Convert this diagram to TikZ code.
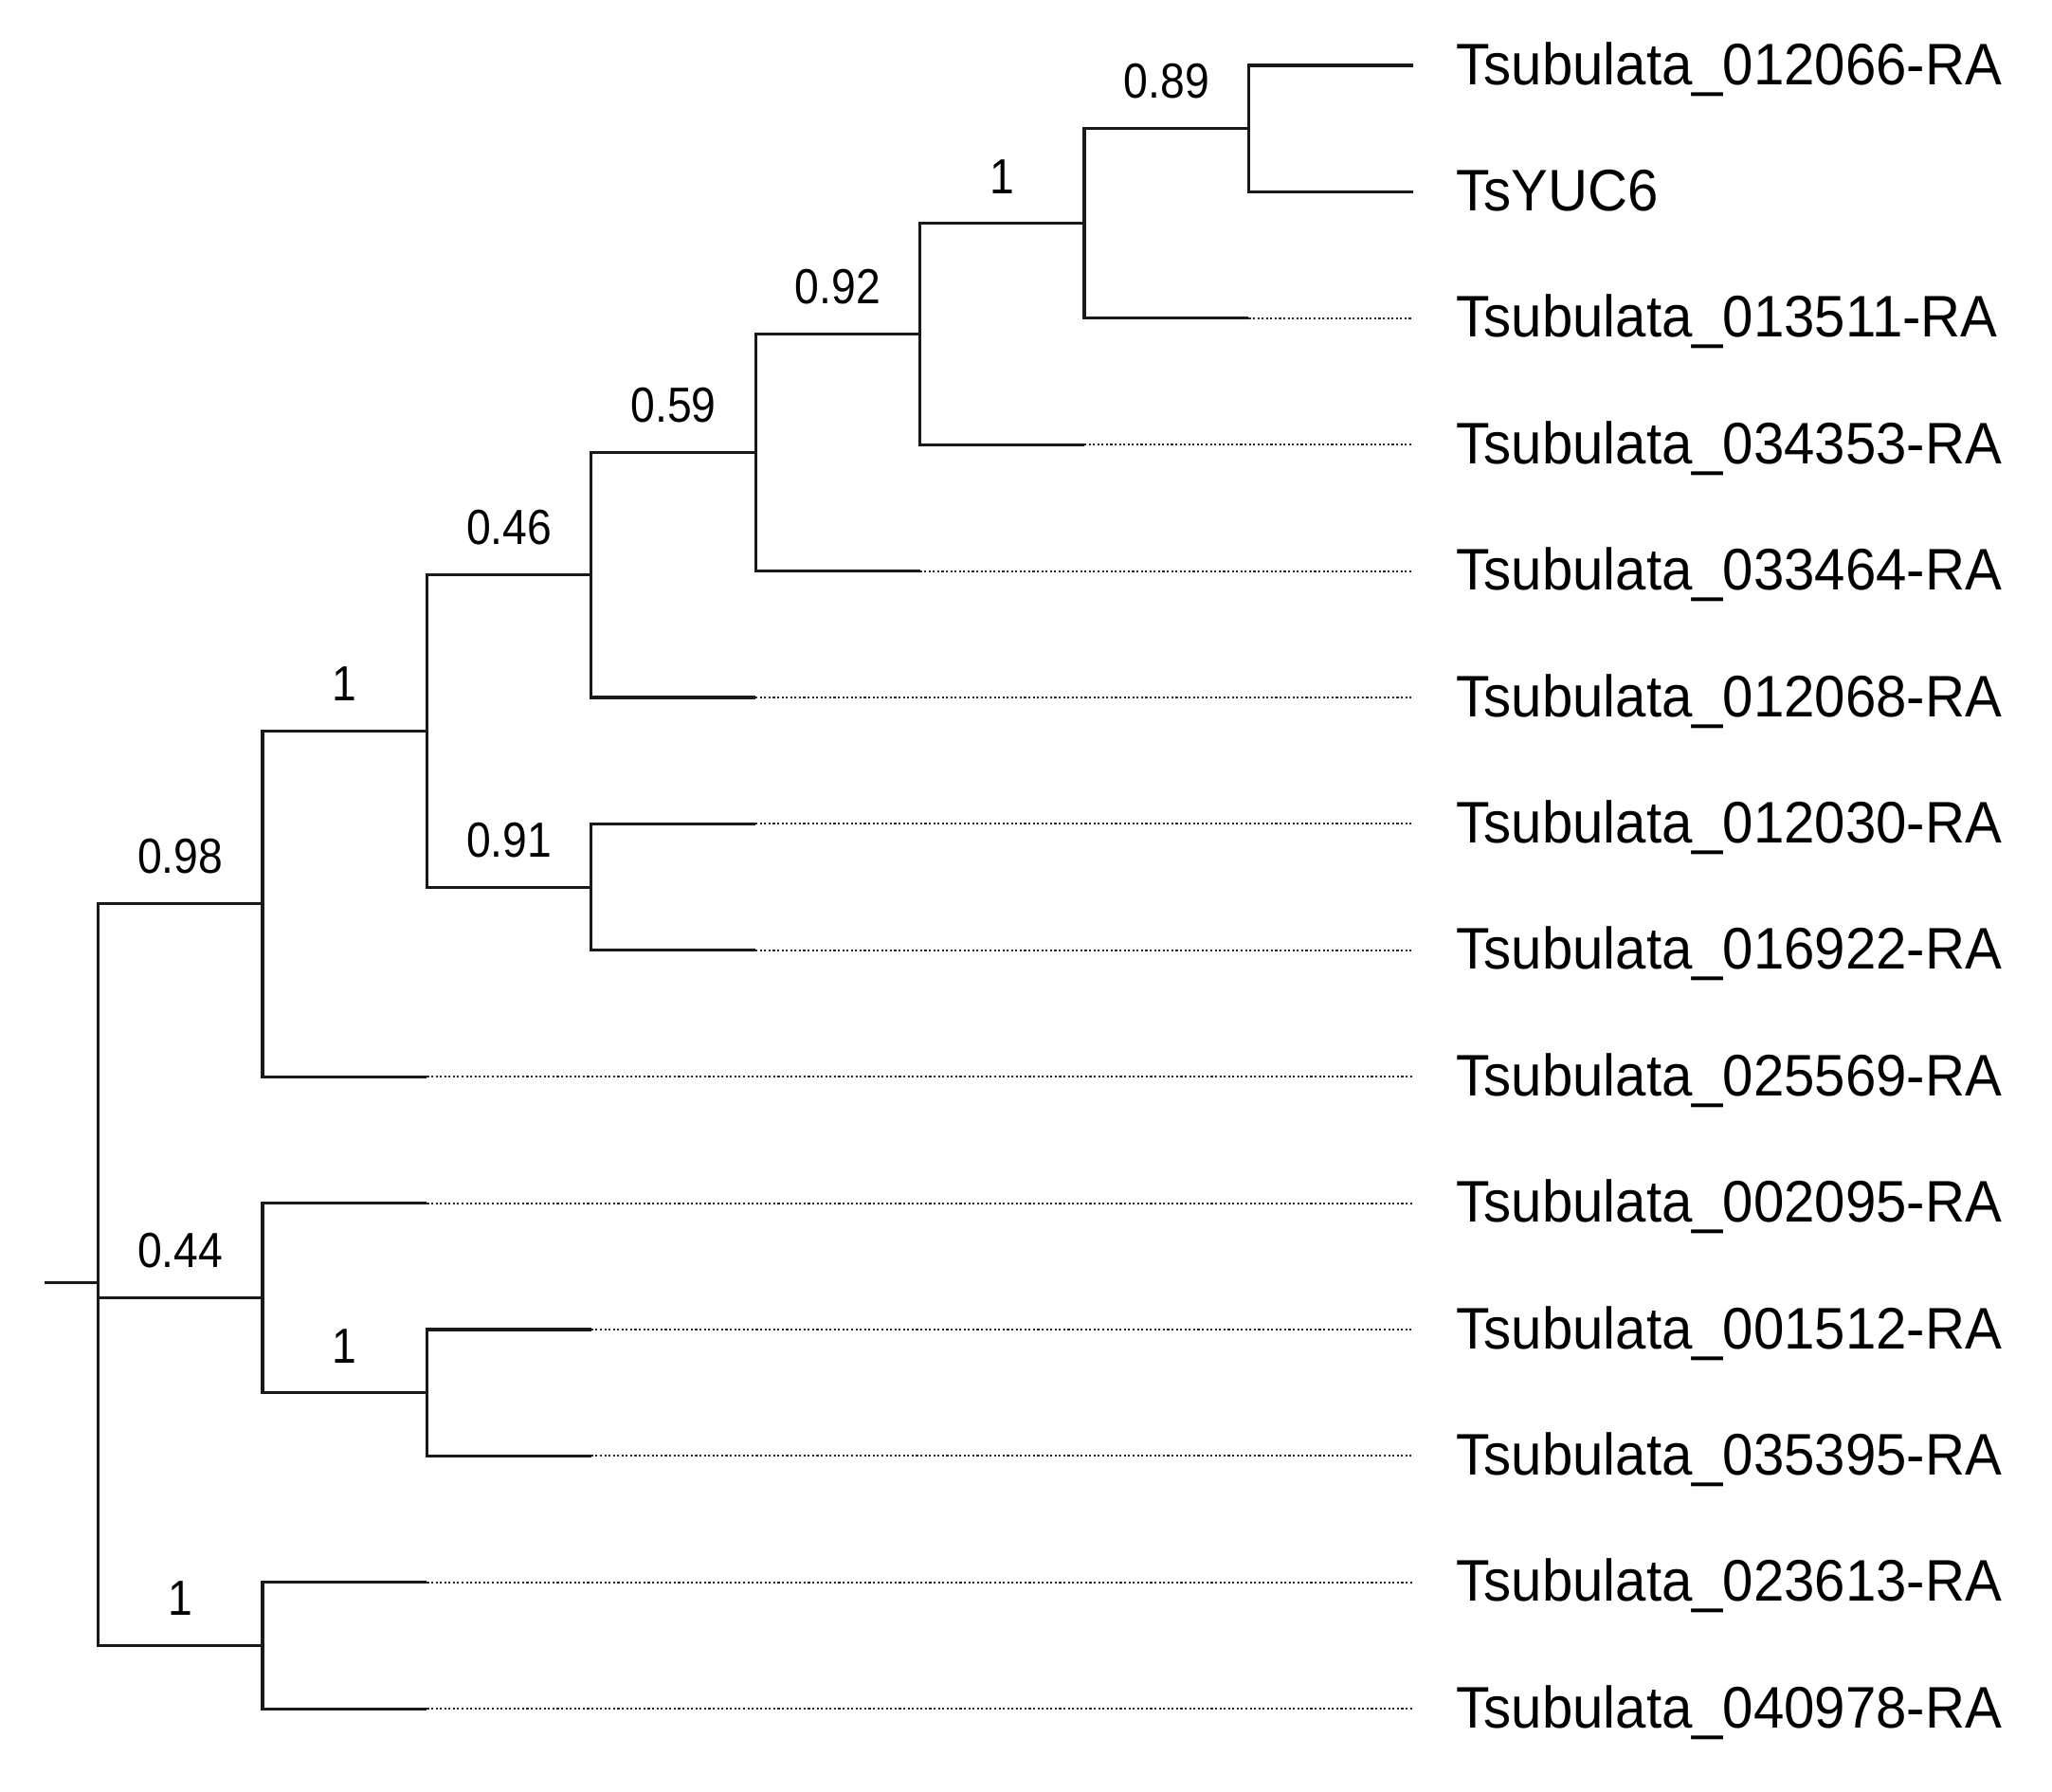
\documentclass[tikz,border=0pt]{standalone}
\usepackage{fontspec}
\setmainfont{Liberation Sans}
\newfontfamily\taxfont[FakeStretch=0.94]{Liberation Sans}
\newfontfamily\suppfont[FakeStretch=0.89]{Liberation Sans}
\tikzset{
  branch/.style={line width=0.9pt,draw=black!90},
  ext/.style={line width=0.6pt,dash pattern=on 0.6pt off 0.7pt,draw=black!85},
  taxon/.style={anchor=west,inner sep=0pt,text height=12.6pt,text depth=0pt,
    font=\taxfont\fontsize{17.6}{20}\selectfont},
  supp/.style={anchor=south,inner sep=0pt,yshift=0.30cm,font=\suppfont\fontsize{14.8}{17}\selectfont}
}
\begin{document}
\begin{tikzpicture}
\useasboundingbox (0,0) rectangle (21.65,-18.90);
% leaves: index/name/x of parent
\foreach \i/\t/\x in {1/Tsubulata\_012066-RA/13.174,2/TsYUC6/13.174,
    3/Tsubulata\_013511-RA/11.440,4/Tsubulata\_034353-RA/9.706,
    5/Tsubulata\_033464-RA/7.972,6/Tsubulata\_012068-RA/6.238,
    7/Tsubulata\_012030-RA/6.238,8/Tsubulata\_016922-RA/6.238,
    9/Tsubulata\_025569-RA/2.770,10/Tsubulata\_002095-RA/2.770,
    11/Tsubulata\_001512-RA/4.504,12/Tsubulata\_035395-RA/4.504,
    13/Tsubulata\_023613-RA/2.770,14/Tsubulata\_040978-RA/2.770} {
  \pgfmathsetmacro{\y}{-0.69-1.334*(\i-1)}
  \coordinate (m\i) at (\x+1.734,\y);
  \coordinate (e\i) at (14.908,\y);
  \node[taxon] (t\i) at (15.36,\y+0.02) {\t};
  \draw[ext] (m\i) -- (e\i);
}
% inner nodes
\coordinate (A) at (13.174,-1.357);
\coordinate (B) at (11.440,-2.3575);
\coordinate (C) at (9.706,-3.5248);
\coordinate (D) at (7.972,-4.7754);
\coordinate (E) at (6.238,-6.0677);
\coordinate (F) at (6.238,-9.361);
\coordinate (G) at (4.504,-7.7143);
\coordinate (H) at (2.770,-9.5382);
\coordinate (I) at (4.504,-14.697);
\coordinate (J) at (2.770,-13.6965);
\coordinate (K) at (2.770,-17.365);
\coordinate (R) at (1.036,-13.5333);
\coordinate (r0) at (0.47,-13.5333);
% branches
\draw[branch] (A) |- (m1);
\draw[branch] (A) |- (m2);
\draw[branch] (B) |- node[supp,pos=.75] (bA) {0.89} (A);
\draw[branch] (B) |- (m3);
\draw[branch] (C) |- node[supp,pos=.75] (bB) {1} (B);
\draw[branch] (C) |- (m4);
\draw[branch] (D) |- node[supp,pos=.75] (bC) {0.92} (C);
\draw[branch] (D) |- (m5);
\draw[branch] (E) |- node[supp,pos=.75] (bD) {0.59} (D);
\draw[branch] (E) |- (m6);
\draw[branch] (F) |- (m7);
\draw[branch] (F) |- (m8);
\draw[branch] (G) |- node[supp,pos=.75] (bE) {0.46} (E);
\draw[branch] (G) |- node[supp,pos=.75] (bF) {0.91} (F);
\draw[branch] (H) |- node[supp,pos=.75] (bG) {1} (G);
\draw[branch] (H) |- (m9);
\draw[branch] (I) |- (m11);
\draw[branch] (I) |- (m12);
\draw[branch] (J) |- (m10);
\draw[branch] (J) |- node[supp,pos=.75] (bI) {1} (I);
\draw[branch] (K) |- (m13);
\draw[branch] (K) |- (m14);
\draw[branch] (R) |- node[supp,pos=.75] (bH) {0.98} (H);
\draw[branch] (R) |- node[supp,pos=.75] (bJ) {0.44} (J);
\draw[branch] (R) |- node[supp,pos=.75] (bK) {1} (K);
\draw[branch] (r0) -- (R);
\end{tikzpicture}
\end{document}
